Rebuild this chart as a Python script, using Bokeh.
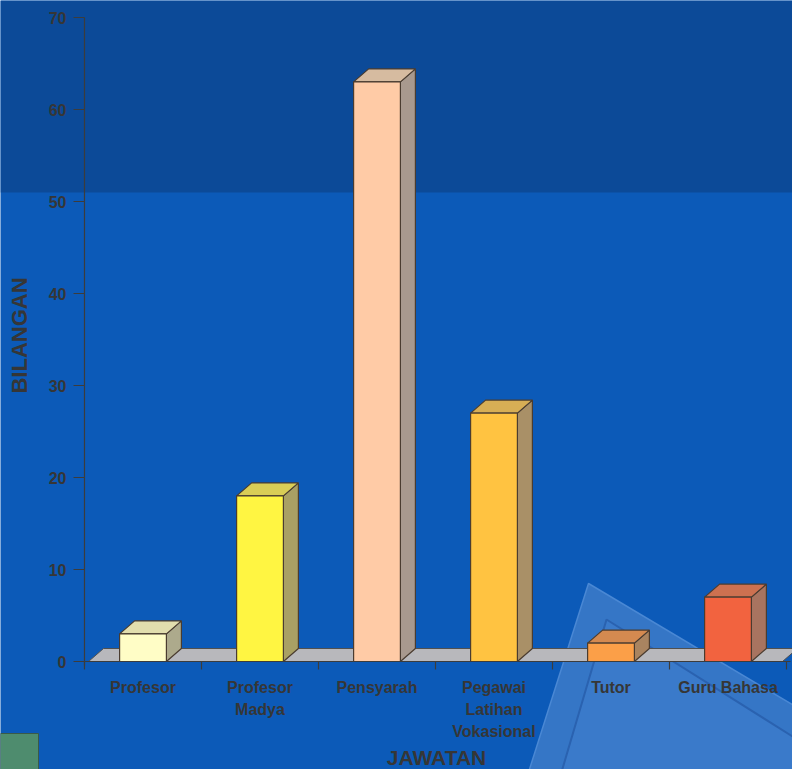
from math import pi
from bokeh.plotting import figure
from bokeh.models import Range1d, ColumnDataSource
from bokeh.embed import file_html
from bokeh.resources import INLINE
from bokeh.core.properties import value

# ---- data ----
categories = ["Profesor", "Profesor\nMadya", "Pensyarah",
              "Pegawai\nLatihan\nVokasional", "Tutor", "Guru Bahasa"]
counts = [3, 18, 63, 27, 2, 7]
front_colors = ["#FFFDC6", "#FFF542", "#FFCBA6", "#FFC341", "#FB9F48", "#F2633F"]
top_colors = ["#E2DEAE", "#D9CD56", "#D6BBA0", "#D7AE55", "#D48A50", "#CD7150"]
side_colors = ["#ADAA8C", "#A9A064", "#A8998E", "#A99067", "#A98460", "#A87460"]
y_ticks = [0, 10, 20, 30, 40, 50, 60, 70]
y_title = "BILANGAN"
x_title = "JAWATAN"

# ---- geometry (pixel scale of the reference) ----
W, H = 792, 769
OFF = 0
PX_X = 117.0     # pixels per category
PX_Y = 9.2       # pixels per unit of BILANGAN
X0_REF, Y0_REF = 84, 661


def rx(px):
    return (px - X0_REF) / PX_X


def ry(py):
    return (Y0_REF - py) / PX_Y


x_start, x_end = rx(OFF), rx(OFF + W)
y_end, y_start = ry(OFF), ry(OFF + H)

DARK_BLUE = "#0C4A98"
BLUE = "#0C5AB8"
TEXT = "#363636"
EDGE = "#4A3C30"
FONT = value("Liberation Sans")

p = figure(width=W, height=H, x_range=Range1d(x_start, x_end),
           y_range=Range1d(y_start, y_end), x_axis_location=None,
           y_axis_location=None, toolbar_location=None, output_backend="svg",
           min_border=0, outline_line_color=None,
           background_fill_color=BLUE, border_fill_color=BLUE)
p.xgrid.visible = False
p.ygrid.visible = False

# ---- background scenery ----
p.quad(left=x_start, right=x_end, bottom=ry(192), top=y_end,
       fill_color=DARK_BLUE, line_color=None)
p.patch(x=[rx(588), rx(800), rx(800), rx(527)],
        y=[ry(583), ry(709), ry(775), ry(775)],
        fill_color="#3576C6", line_color="#4A88D4", line_width=1.5)
p.patch(x=[rx(606), rx(800), rx(800), rx(560)],
        y=[ry(619), ry(741), ry(775), ry(775)],
        fill_color="#3A7ACA", line_color="#2A62B0", line_width=2)
p.quad(left=rx(0), right=rx(38), bottom=ry(775), top=ry(733),
       fill_color="#4E8C6E", line_color="#3A5A48")

# ---- 3D bar geometry ----
n = len(categories)
centers = [i + 0.5 for i in range(n)]
half = 0.2
ddx = 15 / PX_X
ddy = 13 / PX_Y

# floor slab
fx0, fx1 = rx(88), rx(782)
p.patch(x=[fx0, fx1, fx1 + ddx, fx0 + ddx], y=[0, 0, ddy, ddy],
        fill_color="#B8B8BC", line_color="#505050", line_width=1)

left = [c - half for c in centers]
right = [c + half for c in centers]
src = ColumnDataSource(dict(
    left=left, right=right, top=counts, bottom=[0] * n,
    front=front_colors, topc=top_colors, side=side_colors,
    top_xs=[[l, r, r + ddx, l + ddx] for l, r in zip(left, right)],
    top_ys=[[v, v, v + ddy, v + ddy] for v in counts],
    side_xs=[[r, r + ddx, r + ddx, r] for r in right],
    side_ys=[[0, ddy, v + ddy, v] for v in counts],
))
p.patches(xs="side_xs", ys="side_ys", source=src, fill_color="side",
          line_color=EDGE, line_width=1.2)
p.patches(xs="top_xs", ys="top_ys", source=src, fill_color="topc",
          line_color=EDGE, line_width=1.2)
p.quad(left="left", right="right", top="top", bottom="bottom", source=src,
       fill_color="front", line_color=EDGE, line_width=1.2)

# ---- axes drawn with the plot scales ----
AX = "#3C3C3C"
p.segment(x0=[0], y0=[ry(665)], x1=[0], y1=[y_ticks[-1]], line_color=AX, line_width=1.2)
p.segment(x0=[0], y0=[0], x1=[rx(790)], y1=[0], line_color=AX, line_width=1.2)
p.segment(x0=[rx(73)] * len(y_ticks), y0=y_ticks, x1=[0] * len(y_ticks), y1=y_ticks,
          line_color=AX, line_width=1.2)
bounds = list(range(n + 1))
p.segment(x0=bounds, y0=[0] * len(bounds), x1=bounds, y1=[ry(669)] * len(bounds),
          line_color=AX, line_width=1.2)

p.text(x=[rx(66)] * len(y_ticks), y=y_ticks, text=[str(t) for t in y_ticks],
       text_font=FONT, text_font_style="bold", text_font_size="16px",
       text_color=TEXT, text_align="right", text_baseline="middle")

lx, ly, lt = [], [], []
for c, lab in zip(centers, categories):
    for k, line in enumerate(lab.split("\n")):
        lx.append(c)
        ly.append(ry(687 + 22 * k))
        lt.append(line)
p.text(x=lx, y=ly, text=lt, text_font=FONT, text_font_style="bold",
       text_font_size="16px", text_color=TEXT, text_align="center",
       text_baseline="middle")

p.text(x=[rx(19)], y=[ry(335)], text=[y_title], angle=pi / 2,
       text_font=FONT, text_font_style="bold", text_font_size="22px",
       text_color=TEXT, text_align="center", text_baseline="middle")
p.text(x=[rx(436)], y=[ry(757)], text=[x_title],
       text_font=FONT, text_font_style="bold", text_font_size="21px",
       text_color=TEXT, text_align="center", text_baseline="middle")

open("out.html", "w").write(file_html(p, INLINE))
